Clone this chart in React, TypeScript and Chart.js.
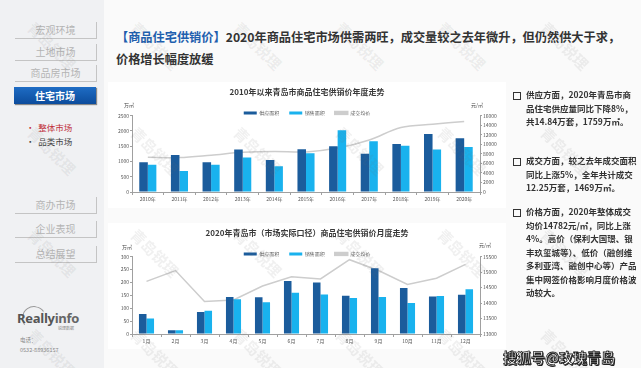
import React, { useEffect, useRef } from "react";
import { Chart, registerables } from "chart.js";
Chart.register(...registerables);

const FONT = '"Noto Sans CJK SC", "Noto Sans", sans-serif';
Chart.defaults.font.family = FONT;

const years = ["2010年", "2011年", "2012年", "2013年", "2014年", "2015年", "2016年", "2017年", "2018年", "2019年", "2020年"];
const yearSupply = [970, 1210, 975, 1390, 1050, 1400, 1500, 1250, 1570, 1900, 1759];
const yearSales = [890, 690, 890, 1130, 845, 1270, 2020, 1660, 1510, 1390, 1469];
const yearPrice = [7300, 7200, 7700, 8300, 8500, 8400, 9200, 10900, 13500, 14200, 14782];

const months = ["1月", "2月", "3月", "4月", "5月", "6月", "7月", "8月", "9月", "10月", "11月", "12月"];
const monthSupply = [78, 15, 85, 143, 142, 205, 200, 148, 255, 178, 145, 152];
const monthSales = [60, 15, 90, 135, 123, 160, 153, 140, 143, 120, 147, 173];
const monthPrice = [14700, 15050, 14050, 14100, 14550, 14850, 14780, 15400, 15050, 14600, 14800, 15250];

const seriesNames = ["供应面积", "销售面积", "成交均价"];

type Props = {
  labels: string[];
  supply: number[];
  sales: number[];
  price: number[];
  title: string;
  leftMax: number;
  leftStep: number;
  rightMin: number;
  rightMax: number;
  rightStep: number;
  catPct: number;
  tension: number;
  left: number;
  top: number;
  width: number;
  height: number;
  legendTrim: number;
};

function BarLineChart(p: Props) {
  const ref = useRef<HTMLCanvasElement>(null);
  useEffect(() => {
    const tickFont = { size: 5, family: FONT };
    const axisColor = "#a0a0a0";
    const plain = (v: any) => String(v);
    const trimLegend = {
      id: "trimLegend",
      beforeInit(chart: any) {
        const lg = chart.legend;
        if (!lg) return;
        const orig = lg.fit;
        lg.fit = function () {
          orig.call(this);
          this.height -= p.legendTrim;
        };
      },
    };
    const chart = new Chart(ref.current!, {
      type: "bar",
      data: {
        labels: p.labels,
        datasets: [
          {
            type: "bar",
            label: seriesNames[0],
            data: p.supply,
            backgroundColor: "#1b5c9c",
            yAxisID: "y",
            order: 1,
            categoryPercentage: p.catPct,
            barPercentage: 1,
          },
          {
            type: "bar",
            label: seriesNames[1],
            data: p.sales,
            backgroundColor: "#19b2ee",
            yAxisID: "y",
            order: 1,
            categoryPercentage: p.catPct,
            barPercentage: 1,
          },
          {
            type: "line",
            label: seriesNames[2],
            data: p.price,
            borderColor: "#cdcdcd",
            backgroundColor: "#cdcdcd",
            borderWidth: 1.5,
            pointRadius: 0,
            tension: p.tension,
            yAxisID: "y1",
            order: 2,
          },
        ],
      } as any,
      options: {
        responsive: false,
        animation: false,
        maintainAspectRatio: false,
        layout: { padding: { left: 0, right: 0, top: 0, bottom: 0 } },
        plugins: {
          tooltip: { enabled: false },
          title: {
            display: true,
            text: p.title,
            color: "#3a3a3a",
            font: { size: 8, weight: "bold", family: FONT },
            padding: { top: 4, bottom: 4 },
          },
          legend: {
            display: true,
            labels: {
              boxWidth: 13,
              boxHeight: 3,
              color: "#555",
              font: { size: 5, family: FONT },
              padding: 10,
            },
          },
        },
        scales: {
          x: {
            grid: { drawOnChartArea: false, tickLength: 3, color: axisColor },
            border: { color: axisColor },
            ticks: { font: tickFont, color: "#555", padding: 1, maxRotation: 0 },
            afterFit: (s: any) => {
              s.height = 14;
            },
          },
          y: {
            position: "left",
            min: 0,
            max: p.leftMax,
            ticks: { stepSize: p.leftStep, font: tickFont, color: "#555", padding: 1, callback: plain },
            grid: { drawOnChartArea: false, tickLength: 2, color: axisColor },
            border: { color: axisColor },
            afterFit: (s: any) => {
              s.width = 24;
            },
          },
          y1: {
            position: "right",
            min: p.rightMin,
            max: p.rightMax,
            ticks: { stepSize: p.rightStep, font: tickFont, color: "#555", padding: 1, callback: plain },
            grid: { drawOnChartArea: false, tickLength: 2, color: axisColor },
            border: { color: axisColor },
            afterFit: (s: any) => {
              s.width = 26;
            },
          },
        },
      } as any,
      plugins: [trimLegend],
    });
    return () => chart.destroy();
  }, []);
  return (
    <canvas
      ref={ref}
      width={p.width}
      height={p.height}
      style={{ position: "absolute", left: p.left, top: p.top, width: p.width, height: p.height }}
    />
  );
}

const abs = (s: React.CSSProperties): React.CSSProperties => ({ position: "absolute", ...s });

function NavButton({ text, top, active }: { text: string; top: number; active?: boolean }) {
  if (active) {
    return (
      <div
        style={abs({
          left: 14,
          top,
          width: 82,
          height: 17,
          background: "linear-gradient(180deg,#1e6cc4 0%,#0c4c9c 100%)",
          color: "#fff",
          fontWeight: "bold",
          fontSize: 10,
          lineHeight: "17px",
          textAlign: "center",
          boxShadow: "1px 1px 1px #888",
        })}
      >
        {text}
      </div>
    );
  }
  return (
    <div
      style={abs({
        left: 15,
        top,
        width: 81,
        height: 16,
        borderRight: "1.5px solid #c4c4c4",
        borderBottom: "1.5px solid #c4c4c4",
        color: "#b4b4b4",
        fontSize: 10,
        lineHeight: "16px",
        textAlign: "center",
      })}
    >
      {text}
    </div>
  );
}

function Para({ top, lines }: { top: number; lines: string[] }) {
  return (
    <>
      <div style={abs({ left: 513, top: top + 3, width: 6, height: 6, border: "1px solid #333" })} />
      {lines.map((l, i) => (
        <div
          key={i}
          style={abs({
            left: 526,
            top: top + i * 13.5,
            fontSize: 8.5,
            lineHeight: "11px",
            fontWeight: "bold",
            color: "#333",
            whiteSpace: "nowrap",
          })}
        >
          {l}
        </div>
      ))}
    </>
  );
}

const wmCols = [52, 155, 258, 360, 462, 565];
const wmRows = [45, 150, 252, 352];

export default function App() {
  const unit = (t: string, left: number, top: number) => (
    <div style={abs({ left, top, fontSize: 5, color: "#444", whiteSpace: "nowrap" })}>{t}</div>
  );
  return (
    <div
      style={abs({
        left: 0,
        top: 0,
        width: 641,
        height: 368,
        background: "#fafafa",
        overflow: "hidden",
        fontFamily: FONT,
      })}
    >
      {/* sidebar */}
      <div style={abs({ left: 0, top: 0, width: 104, height: 368, background: "#f0f1f3" })} />
      <NavButton text="宏观环境" top={22} />
      <NavButton text="土地市场" top={44} />
      <NavButton text="商品房市场" top={65} />
      <NavButton text="住宅市场" top={87} active />
      <div style={abs({ left: 26, top: 121, fontSize: 8.5, color: "#c0303a", whiteSpace: "nowrap" })}>•&nbsp; 整体市场</div>
      <div style={abs({ left: 26, top: 135, fontSize: 8.5, color: "#444", whiteSpace: "nowrap" })}>•&nbsp; 品类市场</div>
      <NavButton text="商办市场" top={197} />
      <NavButton text="企业表现" top={221} />
      <NavButton text="总结展望" top={246} />
      <div
        style={abs({
          left: 22,
          top: 306,
          width: 22,
          height: 22,
          borderRadius: "50%",
          borderTop: "1px solid #999",
          borderLeft: "1px solid #999",
          borderRight: "1px solid transparent",
          borderBottom: "1px solid transparent",
          transform: "rotate(10deg)",
        })}
      />
      <div
        style={abs({
          left: 17,
          top: 309,
          fontSize: 13,
          fontWeight: "bold",
          color: "#555",
          fontFamily: '"Open Sans", "DejaVu Sans", sans-serif',
          letterSpacing: -0.3,
          whiteSpace: "nowrap",
        })}
      >
        Really<span style={{ color: "#666" }}>info</span>
      </div>
      <div style={abs({ left: 58, top: 325, fontSize: 4, color: "#888", whiteSpace: "nowrap" })}>锐理数据</div>
      <div style={abs({ left: 20, top: 336, fontSize: 5.5, color: "#888", whiteSpace: "nowrap" })}>电话：</div>
      <div style={abs({ left: 20, top: 346, fontSize: 5.5, color: "#888", whiteSpace: "nowrap" })}>0532-88936157</div>

      {/* heading */}
      <div
        style={abs({
          left: 116,
          top: 26,
          fontSize: 12.2,
          fontWeight: "bold",
          color: "#333",
          lineHeight: "22px",
          whiteSpace: "nowrap",
        })}
      >
        <span style={{ color: "#1f5fae" }}>【商品住宅供销价】</span>
        2020年商品住宅市场供需两旺，成交量较之去年微升，但仍然供大于求，
        <br />
        价格增长幅度放缓
      </div>

      {/* charts */}
      <div style={abs({ left: 108, top: 82, width: 398, height: 126, background: "#fff" })} />
      <div style={abs({ left: 108, top: 223, width: 398, height: 126, background: "#fff" })} />
      <BarLineChart
        labels={years}
        supply={yearSupply}
        sales={yearSales}
        price={yearPrice}
        title="2010年以来青岛市商品住宅供销价年度走势"
        leftMax={2500}
        leftStep={500}
        rightMin={0}
        rightMax={16000}
        rightStep={2000}
        catPct={0.54}
        tension={0.35}
        left={108}
        top={83}
        width={398}
        height={123}
        legendTrim={10}
      />
      {unit("万㎡", 124, 101)}
      {unit("元/㎡", 471, 101)}
      <BarLineChart
        labels={months}
        supply={monthSupply}
        sales={monthSales}
        price={monthPrice}
        title="2020年青岛市（市场实际口径）商品住宅供销价月度走势"
        leftMax={300}
        leftStep={50}
        rightMin={13000}
        rightMax={15500}
        rightStep={500}
        catPct={0.52}
        tension={0}
        left={108}
        top={224}
        width={398}
        height={124}
        legendTrim={10}
      />
      {unit("万㎡", 122, 243)}
      {unit("元/㎡", 479, 241)}

      {/* right text */}
      <Para top={89} lines={["供应方面，2020年青岛市商", "品住宅供应量同比下降8%，", "共14.84万套，1759万㎡。"]} />
      <Para top={155} lines={["成交方面，较之去年成交面积", "同比上涨5%，全年共计成交", "12.25万套，1469万㎡。"]} />
      <Para
        top={206}
        lines={[
          "价格方面，2020年整体成交",
          "均价14782元/㎡，同比上涨",
          "4%。高价（保利大国璟、银",
          "丰玖玺城等）、低价（融创维",
          "多利亚湾、融创中心等）产品",
          "集中网签价格影响月度价格波",
          "动较大。",
        ]}
      />

      {/* watermarks */}
      {wmRows.map((y, ri) =>
        wmCols.map((x, ci) => (
          <div
            key={ri + "-" + ci}
            style={abs({
              left: x - 30,
              top: y - 10,
              width: 60,
              textAlign: "center",
              fontSize: 15,
              fontWeight: "bold",
              color: "rgba(110,110,110,0.10)",
              transform: "rotate(45deg)",
              whiteSpace: "nowrap",
              pointerEvents: "none",
            })}
          >
            青岛锐理
          </div>
        ))
      )}

      <div
        style={abs({
          left: 503,
          top: 347,
          fontSize: 14,
          fontWeight: "bold",
          color: "#fff",
          whiteSpace: "nowrap",
          WebkitTextStroke: "0.8px #222",
          textShadow: "1px 1px 0 #222",
        })}
      >
        搜狐号@玫瑰青岛
      </div>
    </div>
  );
}
